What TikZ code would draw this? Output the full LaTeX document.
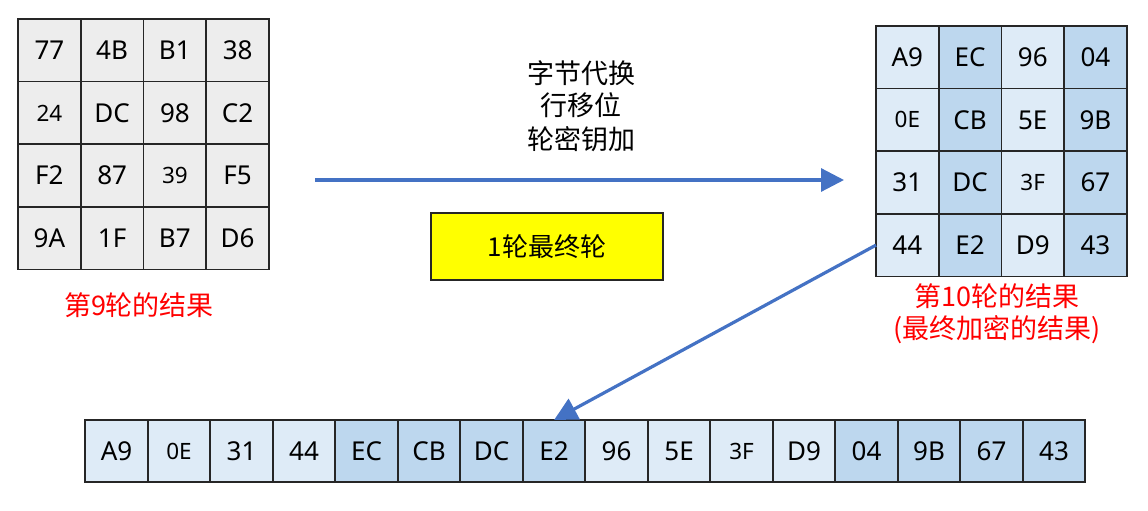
\documentclass[tikz,border=0pt]{standalone}
\usepackage{fontspec}
\setmainfont{Noto Sans}
\newfontfamily\cjk{Noto Sans CJK SC}
\usetikzlibrary{arrows.meta}
\definecolor{cgray}{HTML}{EDEDED}
\definecolor{clight}{HTML}{DEEBF7}
\definecolor{cmed}{HTML}{BDD7EE}
\definecolor{carrow}{HTML}{4472C4}
\definecolor{cred}{HTML}{FF0000}
\definecolor{cyel}{HTML}{FFFF00}
\newcommand\smv{\fontsize{22.5}{26}\selectfont}
\tikzset{
  cell/.style={draw=black!85, line width=1.8pt, minimum width=62.7pt, minimum height=62.7pt, inner sep=0pt, outer sep=0pt, font=\fontsize{26}{30}\selectfont},
  bcell/.style={cell, minimum width=62.5pt, minimum height=62pt},
  flow/.style={draw=carrow, line width=3.2pt, -{Triangle[length=23pt,width=23pt]}},
  redlabel/.style={text=cred, font=\cjk\fontsize{27}{32}\selectfont},
  oplabel/.style={font=\cjk\fontsize{27}{32}\selectfont}
}
\begin{document}
\begin{tikzpicture}[x=1pt,y=-1pt]
\useasboundingbox (0,0) rectangle (1148,511);
% left grid (round 9)
\foreach \r/\row in {0/{77,4B,B1,38},1/{\smv 24,DC,98,C2},2/{F2,87,\smv 39,F5},3/{9A,1F,B7,D6}}{
  \foreach \v [count=\c from 0] in \row {
    \node[cell, fill=cgray] (L-\r-\c) at ({18+62.75*(\c+0.5)},{19+62.6*(\r+0.5)}) {\v};
  }
}
% right grid (round 10)
\foreach \r/\row in {0/{A9,EC,96,04},1/{\smv 0E,CB,5E,9B},2/{31,DC,\smv 3F,67},3/{44,E2,D9,43}}{
  \foreach \v [count=\c from 0] in \row {
    \pgfmathtruncatemacro{\odd}{mod(\c,2)}
    \ifnum\odd=0 \def\fc{clight}\else\def\fc{cmed}\fi
    \node[cell, fill=\fc] (R-\r-\c) at ({876+62.7*(\c+0.5)},{26+62.6*(\r+0.5)}) {\v};
  }
}
% bottom row
\foreach \v [count=\i from 0] in {A9,\smv 0E,31,44,EC,CB,DC,E2,96,5E,\smv 3F,D9,04,9B,67,43}{
  \pgfmathtruncatemacro{\grp}{mod(floor(\i/4),2)}
  \ifnum\grp=0 \def\fc{clight}\else\def\fc{cmed}\fi
  \node[bcell, fill=\fc] (B-\i) at ({85.3+62.5*(\i+0.5)},451) {\v};
}
% labels
\node[redlabel] (lab9) at (139,305) {第9轮的结果};
\node[redlabel, align=center] (lab10) at (997,314) {第10轮的结果\\[0pt](最终加密的结果)};
\node[oplabel, align=center] (ops) at (581,106) {字节代换\\[0pt]行移位\\[2pt]轮密钥加};
\node[draw=black!85, line width=1.8pt, fill=cyel, minimum width=232pt, minimum height=67pt, font=\cjk\fontsize{26}{30}\selectfont] (final) at (547,246.5) {1轮最终轮};
% arrows
\coordinate (a0) at (315,180);
\coordinate (a1) at (844,180);
\draw[flow] (a0) -- (a1);
\draw[flow] (R-3-0.west) -- (B-7.north);
\end{tikzpicture}
\end{document}
